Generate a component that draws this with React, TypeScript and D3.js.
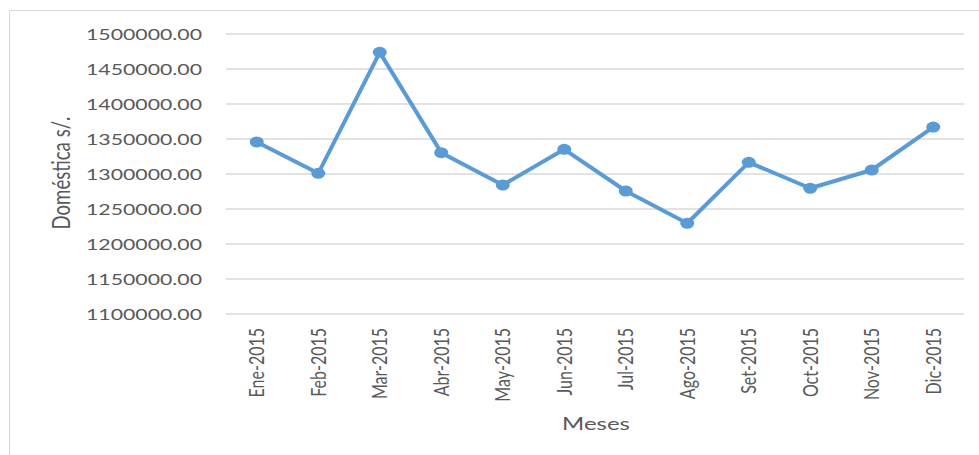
import React, { useEffect, useRef } from 'react';
import * as d3 from 'd3';

const months = [
    'Ene-2015', 'Feb-2015', 'Mar-2015', 'Abr-2015', 'May-2015', 'Jun-2015',
    'Jul-2015', 'Ago-2015', 'Set-2015', 'Oct-2015', 'Nov-2015', 'Dic-2015'
];
const domestica = [
    1345700, 1301000, 1473800, 1330500, 1284300, 1335300,
    1275700, 1229600, 1316700, 1279600, 1305700, 1367100
];
const yTicks = [1100000, 1150000, 1200000, 1250000, 1300000, 1350000, 1400000, 1450000, 1500000];

const yTitle = 'Doméstica s/.';
const xTitle = 'Meses';

export default function App() {

    const chart = useRef<SVGSVGElement>(null);

    useEffect(() => {
        const width = 979, height = 455;
        const font = 'Lato, "Open Sans", sans-serif';
        const textColor = '#595959';

        const svg = d3.select(chart.current)
            .attr('width', width)
            .attr('height', height);
        svg.selectAll('*').remove();

        // chart frame
        svg.append('rect')
            .attr('x', 9.5).attr('y', 10.5)
            .attr('width', 1000).attr('height', 500)
            .attr('fill', 'white')
            .attr('stroke', '#d9d9d9');

        const x = d3.scaleBand().domain(months).range([226, 964]).padding(0);
        const y = d3.scaleLinear().domain([1100000, 1500000]).range([314, 34]);

        // gridlines
        svg.append('g')
            .selectAll('line')
            .data(yTicks)
            .join('line')
                .attr('x1', 226).attr('x2', 964)
                .attr('y1', d => y(d)).attr('y2', d => y(d))
                .attr('stroke', '#d9d9d9')
                .attr('stroke-width', 1.5);

        // y tick labels
        svg.append('g')
            .selectAll('text')
            .data(yTicks)
            .join('text')
                .attr('x', 202)
                .attr('y', d => y(d) + 5.7)
                .attr('text-anchor', 'end')
                .attr('textLength', 116)
                .attr('lengthAdjust', 'spacingAndGlyphs')
                .style('font-family', font)
                .style('font-size', '16px')
                .attr('fill', textColor)
                .text(d => d.toFixed(2));

        // x tick labels (rotated, stretched sideways like the source image)
        svg.append('g')
            .selectAll('text')
            .data(months)
            .join('text')
                .attr('transform', d => `translate(${x(d)! + x.bandwidth() / 2 + 7.5}, 328) scale(1.3,1) rotate(-90)`)
                .attr('text-anchor', 'end')
                .style('font-family', font)
                .style('font-size', '16px')
                .attr('fill', textColor)
                .text(d => d);

        // axis titles
        svg.append('text')
            .attr('transform', 'translate(70, 173) scale(1.4,1) rotate(-90)')
            .attr('text-anchor', 'middle')
            .attr('textLength', 113)
            .attr('lengthAdjust', 'spacingAndGlyphs')
            .style('font-family', font)
            .style('font-size', '18px')
            .attr('fill', textColor)
            .text(yTitle);

        svg.append('text')
            .attr('x', 596).attr('y', 430)
            .attr('text-anchor', 'middle')
            .attr('textLength', 68)
            .attr('lengthAdjust', 'spacingAndGlyphs')
            .style('font-family', font)
            .style('font-size', '18px')
            .attr('fill', textColor)
            .text(xTitle);

        const cx = (i: number) => x(months[i])! + x.bandwidth() / 2;

        // line
        const line = d3.line<number>()
            .x((d, i) => cx(i))
            .y(d => y(d));

        svg.append('path')
            .datum(domestica)
            .attr('d', line)
            .attr('fill', 'none')
            .attr('stroke', '#5b9bd5')
            .attr('stroke-width', 4)
            .attr('stroke-linejoin', 'round');

        // markers
        svg.append('g')
            .selectAll('ellipse')
            .data(domestica)
            .join('ellipse')
                .attr('cx', (d, i) => cx(i))
                .attr('cy', d => y(d))
                .attr('rx', 7)
                .attr('ry', 5.5)
                .attr('fill', '#5b9bd5');
    }, []);

    return (
        <div>
            <svg ref={chart} style={{ position: 'absolute', left: 0, top: 0 }}></svg>
        </div>
    );
}
